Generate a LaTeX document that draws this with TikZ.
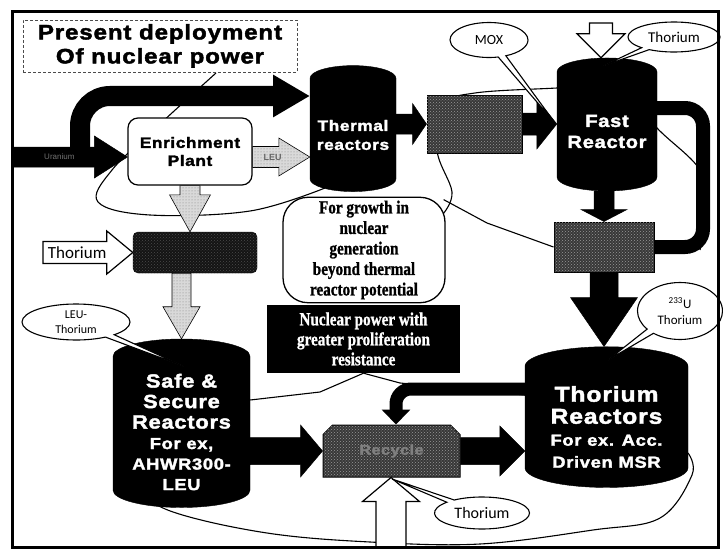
\documentclass[tikz,border=0pt]{standalone}
\usepackage{fontspec}
\setmainfont{Liberation Sans}
\newfontfamily\heavyfont[FakeStretch=1.15,FakeBold=2,LetterSpace=4]{Liberation Sans Bold}
\newfontfamily\calloutfont{Carlito}
\newfontfamily\narrowfont[FakeStretch=0.82,FakeBold=1]{Liberation Serif Bold}
\usetikzlibrary{shapes.geometric,shapes.misc,shapes.callouts,calc,arrows.meta,patterns,backgrounds}

\newcommand{\fs}[2]{\fontsize{#1}{#2}\selectfont}
% block arrow: style, from, to, body half width, head half width, head length
\newcommand{\blockarrow}[6]{%
  \coordinate (neck) at ($(#3)!#6!(#2)$);
  \draw[#1] ($(#2)!#4!90:(#3)$) -- ($(neck)!#4!90:(#3)$) -- ($(neck)!#5!90:(#3)$) -- (#3)
    -- ($(neck)!#5!-90:(#3)$) -- ($(neck)!#4!-90:(#3)$) -- ($(#2)!#4!-90:(#3)$) -- cycle;}

\begin{document}
\begin{tikzpicture}[x=1pt,y=-1pt,
  reactor/.style={cylinder, shape border rotate=90, aspect=0.35, fill=black, draw=black,
    text=white, align=center, inner sep=0pt},
  plant/.style={chamfered rectangle, chamfered rectangle corners={north west,north east},
    chamfered rectangle xsep=6pt, draw=black, line width=1pt, fill=black!78,
    postaction={pattern=crosshatch dots, pattern color=black!40}, inner sep=0pt},
  solidarrow/.style={fill=black, draw=black, line width=0.5pt},
  grayarrow/.style={fill=black!15, draw=black, line width=0.6pt,
    postaction={pattern=dots, pattern color=black!50}},
  whitearrow/.style={fill=white, draw=black, line width=1.2pt, line join=miter},
  band/.style={draw=black, line cap=butt},
  note/.style={ellipse callout, draw=black, fill=white, line width=1.1pt,
    callout pointer arc=12, inner sep=0pt, align=center},
  loopline/.style={draw=black, line width=1.1pt}]
\useasboundingbox (0,0) rectangle (723,551);

% nodes
\node[draw=black!70, densely dashed, line width=0.6pt, minimum width=274pt, minimum height=52pt,
  align=center, font=\heavyfont\fs{21}{24}] (title) at (160,46) {Present deployment\\Of nuclear power};
\node[draw=black, line width=1.2pt, fill=white, rounded corners=10pt, minimum width=124pt,
  minimum height=67pt, align=center, font=\heavyfont\fs{15}{18}] (enrich) at (190,151.5) {Enrichment\\Plant};
\node[reactor, minimum width=86pt, minimum height=126pt, font=\heavyfont\fs{15}{19}] (thermal) at (353,135) {Thermal\\reactors};
\node[plant, minimum width=95pt, minimum height=58pt] (repro) at (474.5,124) {};
\node[reactor, minimum width=100pt, minimum height=133pt, font=\heavyfont\fs{17.5}{21}] (fast) at (607,131.5) {Fast\\Reactor};
\node[plant, minimum width=100pt, minimum height=50pt] (sep) at (604,247) {};
\node[draw=black, fill=black!92, rounded corners=5pt, minimum width=124pt, minimum height=41pt,
  postaction={pattern=crosshatch dots, pattern color=black!70}] (fab) at (195,252.5) {};
\node[draw=black, line width=1.3pt, fill=white, rounded corners=25pt, minimum width=162pt,
  minimum height=100pt, align=center, font=\narrowfont\fs{18.5}{20.5}] (growth) at (364,250)
  {For growth in\\nuclear\\generation\\beyond thermal\\reactor potential};
\node[fill=black, text=white, minimum width=193pt, minimum height=68pt, align=center,
  font=\narrowfont\fs{18.5}{20}] (prolif) at (363.5,339)
  {Nuclear power with\\greater proliferation\\resistance};
\node[reactor, minimum width=137pt, minimum height=130pt, font=\heavyfont\fs{19}{20.5}] (safe) at (181.5,432)
  {Safe \&\\Secure\\Reactors\\\fs{16}{19}For ex,\\\fs{16}{19}AHWR300-\\\fs{16}{19}LEU};
\node[reactor, minimum width=163pt, minimum height=134pt, font=\heavyfont\fs{21.5}{22}] (thorR) at (606.5,427)
  {Thorium\\Reactors\\\fs{16}{21}For ex. Acc.\\\fs{16}{21}Driven MSR};
\node[plant, minimum width=137pt, minimum height=52pt, font=\heavyfont\fs{14}{14}, text=black!50] (recycle) at (391.5,451)
  {Recycle};

% group outlines
\begin{scope}[on background layer]
  \draw[loopline] plot[smooth, tension=0.6] coordinates
    {(216,73) (160,124) (112,170) (98,202) (150,215) (250,211) (325,188)};
  \draw[loopline] plot[smooth, tension=0.6] coordinates
    {(443,214) (452,192) (437,150) (445,105) (475,93) (557,88) (620,85) (657,128) (700,170) (707,210) (700,250)};
  \draw[loopline] (growth.north east) ++(-2,3) -- (487,223) -- (sep.west);
  \draw[loopline] (prolif.south) -- (320,392) -- (safe.east |- 0,400);
  \draw[loopline] (prolif.south) -- (400,383) -- (thorR.west |- 0,395);
  \draw[loopline] plot[smooth, tension=0.6] coordinates
    {(125,485) (173,512) (267,533) (370,542) (480,544) (593,530) (660,518) (692,475) (688,453)};
\end{scope}

% arrow ends
\coordinate (ustart) at (80,152);
\coordinate (uend) at (310,96);
\coordinate (urtail) at (14,157);
\coordinate (urtip) at (enrich.west |- urtail);
\coordinate (leutail) at (enrich.east |- urtail);
\coordinate (leutip) at (thermal.west |- urtail);
\coordinate (trtail) at (thermal.east |- repro.west);
\coordinate (rftip) at (fast.west |- repro.east);
\coordinate (thtop) at (601,23);
\coordinate (thtopt) at (thtop |- fast.north);
\coordinate (fstail) at (sep.north |- fast.south);
\coordinate (sttip) at (sep.south |- thorR.north);
\coordinate (eftip) at (enrich.south |- fab.north);
\coordinate (thleft) at (43,252.5);
\coordinate (fbtail) at (safe.north |- fab.south);
\coordinate (srtail) at (safe.east |- recycle.west);
\coordinate (rttip) at (thorR.west |- recycle.east);
\coordinate (thbot) at (391,547);
\coordinate (thbott) at (thbot |- recycle.south);
\coordinate (fbr) at (703,108);
\coordinate (rbk) at (396,389);

% bands
\draw[band, line width=20pt, rounded corners=30pt, -{Triangle[length=37pt,width=40pt]}] (ustart) |- (uend);
\draw[band, line width=14pt, rounded corners=18pt] ([xshift=-3pt]fbr -| fast.east) -- (fbr) |- (sep.east);
\draw[band, line width=13pt, rounded corners=15pt, -{Triangle[length=15pt,width=28pt]}]
  ([xshift=3pt]rbk -| thorR.west) -- (rbk) -- (rbk |- recycle.north);

% block arrows
\blockarrow{solidarrow}{urtail}{urtip}{10pt}{21pt}{33pt}
\node[text=black!55, font=\fs{8}{9}] (urlabel) at ($(urtail)!0.4!(urtip)$) {Uranium};
\blockarrow{grayarrow}{leutail}{leutip}{10.5pt}{19pt}{31pt}
\node[text=black!60, font=\fs{9}{10}\bfseries] (leulabel) at ($(leutail)!0.35!(leutip)$) {LEU};
\blockarrow{solidarrow}{trtail}{repro.west}{10pt}{20.5pt}{14pt}
\blockarrow{solidarrow}{repro.east}{rftip}{11pt}{25pt}{20pt}
\blockarrow{whitearrow}{thtop}{thtopt}{11.5pt}{24pt}{24pt}
\blockarrow{solidarrow}{fstail}{sep.north}{10pt}{23pt}{12pt}
\blockarrow{solidarrow}{sep.south}{sttip}{14pt}{33.5pt}{49pt}
\blockarrow{grayarrow}{enrich.south}{eftip}{10pt}{20.5pt}{37pt}
\blockarrow{whitearrow}{thleft}{fab.west}{11pt}{21.5pt}{26pt}
\node[font=\calloutfont\fs{17}{18}] (thlabel) at ($(thleft)!0.38!(fab.west)$) {Thorium};
\blockarrow{grayarrow}{fbtail}{safe.north}{9.5pt}{18.5pt}{32pt}
\blockarrow{solidarrow}{srtail}{recycle.west}{13.5pt}{26pt}{22pt}
\blockarrow{solidarrow}{recycle.east}{rttip}{13.5pt}{25pt}{25pt}
\blockarrow{whitearrow}{thbot}{thbott}{15pt}{28.5pt}{24pt}

% callouts
\node[note, minimum width=78pt, minimum height=35pt, callout absolute pointer={(555,123)}, font=\calloutfont\fs{14}{16}] (moxnote) at (489,40) {MOX};
\node[note, minimum width=92pt, minimum height=30pt, callout absolute pointer={(603,66)}, font=\calloutfont\fs{15}{17}] (thfast) at (674,37) {Thorium};
\node[note, minimum width=85pt, minimum height=57pt, callout absolute pointer={(608,360)}, font=\calloutfont\fs{13}{16}] (u233) at (680,311) {\textsuperscript{233}U\\Thorium};
\node[note, minimum width=95pt, minimum height=32pt, callout absolute pointer={(392,479)}, font=\calloutfont\fs{16}{18}] (threc) at (482,513) {Thorium};
\node[note, minimum width=108pt, minimum height=36pt, callout absolute pointer={(183,366)}, font=\calloutfont\fs{12}{15}] (leuth) at (76,322) {LEU-\\Thorium};

% frame
\draw[line width=3pt] (12,12) rectangle (718,547);
\end{tikzpicture}
\end{document}
